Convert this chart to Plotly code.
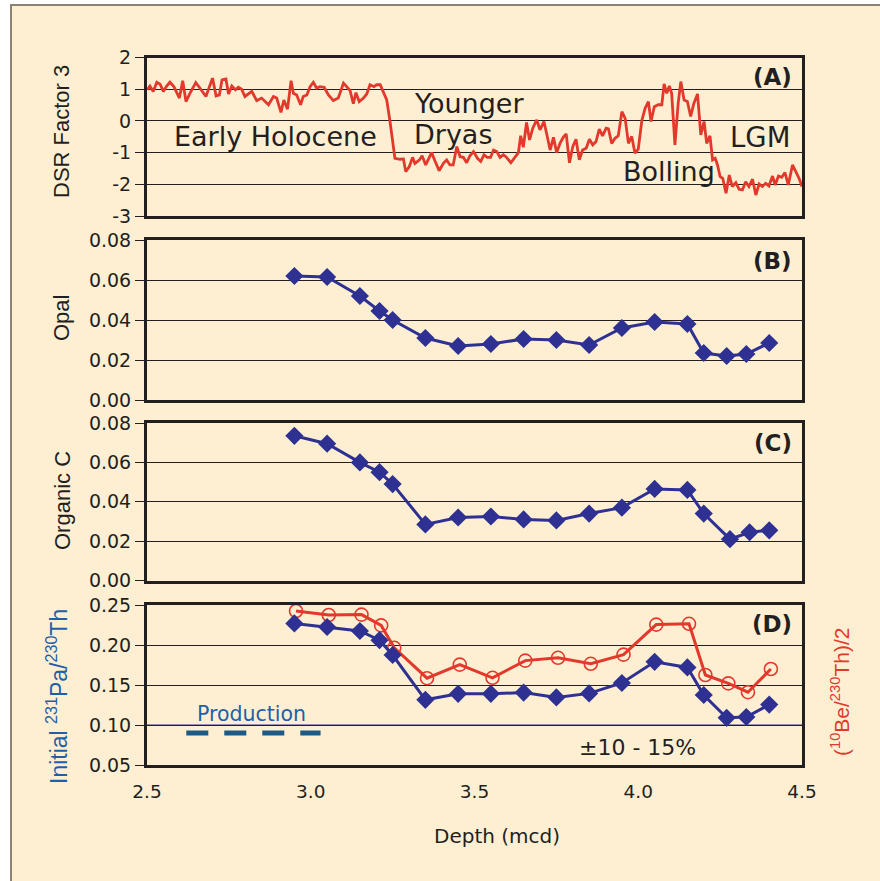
import plotly.graph_objects as go

# ---------------- data ----------------
# Panel A: DSR Factor 3 (depth in mcd, value)
dsr_depth = [2.501, 2.509, 2.519, 2.530, 2.540, 2.550, 2.560, 2.570, 2.582, 2.599,
             2.609, 2.619, 2.631, 2.649, 2.662, 2.680, 2.700, 2.711, 2.721, 2.729,
             2.741, 2.749, 2.759, 2.770, 2.779, 2.789, 2.799, 2.820, 2.835, 2.850,
             2.871, 2.886, 2.896, 2.909, 2.918, 2.929, 2.940, 2.947, 2.957, 2.969,
             2.977, 2.988, 2.998, 3.008, 3.018, 3.028, 3.041, 3.054, 3.069, 3.084,
             3.100, 3.110, 3.120, 3.130, 3.138, 3.148, 3.161, 3.171, 3.181, 3.193,
             3.201, 3.212, 3.222, 3.232, 3.242, 3.257, 3.273, 3.283, 3.290, 3.301,
             3.311, 3.318, 3.332, 3.340, 3.351, 3.361, 3.369, 3.380, 3.392,
             3.405, 3.415, 3.425, 3.435, 3.446, 3.456, 3.466, 3.476, 3.486, 3.497,
             3.509, 3.519, 3.529, 3.539, 3.549, 3.558, 3.568, 3.578, 3.588, 3.596,
             3.611, 3.624, 3.634, 3.641, 3.649, 3.659, 3.668, 3.678, 3.690, 3.700,
             3.712, 3.720, 3.731, 3.741, 3.751, 3.761, 3.771, 3.780, 3.790, 3.800,
             3.810, 3.820, 3.830, 3.841, 3.851, 3.861, 3.871, 3.881, 3.891, 3.902,
             3.909, 3.919, 3.929, 3.939, 3.950, 3.960, 3.970, 3.980, 3.990, 4.000,
             4.011, 4.021, 4.031, 4.039, 4.049, 4.061, 4.072, 4.079, 4.087, 4.095,
             4.102, 4.112, 4.122, 4.130, 4.140, 4.150, 4.160, 4.170, 4.181, 4.191,
             4.201, 4.209, 4.219, 4.227, 4.235, 4.242, 4.250, 4.258, 4.268, 4.278,
             4.287, 4.298, 4.308, 4.318, 4.328, 4.338, 4.349, 4.359, 4.369, 4.379,
             4.389, 4.399, 4.410, 4.418, 4.428, 4.438, 4.448, 4.458, 4.471, 4.481,
             4.491, 4.500]
dsr_value = [0.98, 1.10, 0.93, 1.22, 1.16, 0.93, 1.10, 1.22, 1.08, 0.72,
             1.27, 0.61, 0.87, 1.21, 1.03, 0.77, 1.35, 0.79, 0.82, 1.29,
             1.32, 0.85, 1.10, 0.98, 1.06, 1.00, 0.77, 0.93, 0.64, 0.72,
             0.51, 0.77, 0.72, 0.27, 0.66, 0.37, 1.27, 0.87, 0.82, 0.51,
             0.77, 0.82, 1.08, 1.22, 1.03, 1.08, 1.06, 0.82, 0.64, 0.72,
             1.19, 1.06, 0.96, 0.54, 0.89, 0.61, 0.72, 0.85, 1.14, 1.08,
             1.14, 1.14, 0.87, 0.66, -0.02, -1.18, -1.21, -1.20, -1.60, -1.44,
             -1.15, -1.34, -1.23, -1.10, -1.39, -1.18, -1.00, -1.28, -1.57,
             -1.34, -1.23, -1.39, -1.39, -0.81, -1.13, -1.15, -1.32, -1.10, -0.97,
             -1.18, -1.28, -1.07, -1.15, -1.15, -0.92, -0.97, -1.15, -1.07, -1.13,
             -1.32, -1.13, -1.00, -0.47, -0.83, -0.05, -0.60, -0.23, 0.03, -0.28,
             -0.02, -0.39, -0.92, -0.52, -1.00, -0.71, -0.52, -0.41, -1.32, -0.81,
             -0.58, -1.23, -0.92, -0.86, -0.58, -0.76, -0.65, -0.26, -0.47, -0.23,
             -0.25, -0.71, -0.55, -0.47, 0.29, 0.08, -0.71, -0.49, -1.02, -0.89,
             0.01, 0.40, 0.61, -0.02, 0.45, 0.51, 0.51, 1.17, 0.87, 1.10,
             0.87, -0.76, 0.56, 1.24, 0.66, 0.61, 0.14, 0.56, 0.85, -0.44,
             -0.02, -0.71, -0.47, -1.23, -1.18, -1.39, -1.76, -1.81, -2.28, -1.71,
             -2.07, -1.95, -2.16, -2.18, -1.92, -2.07, -1.84, -2.34, -1.99, -2.07,
             -1.97, -2.05, -1.74, -2.02, -1.74, -1.78, -1.63, -2.02, -1.39, -1.60,
             -1.81, -2.07]

# Panel B: Opal
opal_depth = [2.95, 3.05, 3.15, 3.21, 3.25, 3.35, 3.45, 3.55, 3.65, 3.75,
              3.85, 3.95, 4.05, 4.15, 4.20, 4.27, 4.33, 4.40]
opal_value = [0.062, 0.0615, 0.052, 0.0445, 0.040, 0.031, 0.027, 0.028, 0.0305, 0.030,
              0.0275, 0.036, 0.039, 0.038, 0.0235, 0.022, 0.023, 0.0285]

# Panel C: Organic C
orgc_depth = [2.95, 3.05, 3.15, 3.21, 3.25, 3.35, 3.45, 3.55, 3.65, 3.75,
              3.85, 3.95, 4.05, 4.15, 4.20, 4.28, 4.34, 4.40]
orgc_value = [0.0735, 0.0695, 0.060, 0.055, 0.049, 0.0285, 0.032, 0.0325, 0.031, 0.0305,
              0.034, 0.037, 0.0465, 0.046, 0.034, 0.021, 0.0245, 0.0255]

# Panel D: initial 231Pa/230Th and (10Be/230Th)/2
d_depth = [2.95, 3.05, 3.15, 3.21, 3.25, 3.35, 3.45, 3.55, 3.65, 3.75,
           3.85, 3.95, 4.05, 4.15, 4.20, 4.27, 4.33, 4.40]
pa_th = [0.227, 0.2225, 0.2175, 0.206, 0.1875, 0.1315, 0.139, 0.139, 0.1405, 0.1345,
         0.1395, 0.1525, 0.179, 0.172, 0.1375, 0.109, 0.110, 0.1255]
be_d_depth = [2.955, 3.055, 3.155, 3.215, 3.255, 3.355, 3.455, 3.555, 3.655, 3.755,
              3.855, 3.955, 4.055, 4.155, 4.205, 4.275, 4.335, 4.405]
be_th = [0.2425, 0.2375, 0.238, 0.2245, 0.1965, 0.1585, 0.1755, 0.159, 0.1805, 0.184,
         0.1765, 0.188, 0.2255, 0.2265, 0.1625, 0.152, 0.141, 0.1700]

production_depth = [2.62, 3.03]
production_value = [0.09, 0.09]

x_ticks = [2.5, 3.0, 3.5, 4.0, 4.5]
x_ticktext = ["2.5", "3.0", "3.5", "4.0", "4.5"]
a_ticks = [2, 1, 0, -1, -2, -3]
a_ticktext = ["2", "1", "0", "-1", "-2", "-3"]
bc_ticks = [0.0, 0.02, 0.04, 0.06, 0.08]
bc_ticktext = ["0.00", "0.02", "0.04", "0.06", "0.08"]
d_ticks = [0.05, 0.10, 0.15, 0.20, 0.25]
d_ticktext = ["0.05", "0.10", "0.15", "0.20", "0.25"]

# ---------------- style ----------------
CREAM = "#FEEFD3"
DARK = "#231F20"
RED = "#E3382C"
BLUE = "#2E3192"
WIDE = "DejaVu Sans, Verdana, Liberation Sans, Arial"
NARROW = "Liberation Sans, Arial"
TICKFONT = dict(family=WIDE, size=19, color=DARK)
XTICKFONT = dict(family=WIDE, size=18.5, color=DARK)

W, H = 880, 881
xdom = [147 / W, 802 / W]


def ydom(top_px, bot_px):
    return [1 - bot_px / H, 1 - top_px / H]


fig = go.Figure()

fig.add_trace(go.Scatter(x=dsr_depth, y=dsr_value, mode="lines",
                         line=dict(color=RED, width=2.8), xaxis="x", yaxis="y",
                         showlegend=False, hoverinfo="skip"))
fig.add_trace(go.Scatter(x=opal_depth, y=opal_value, mode="lines+markers",
                         line=dict(color=BLUE, width=3),
                         marker=dict(symbol="diamond", size=14, color=BLUE),
                         xaxis="x2", yaxis="y2", showlegend=False))
fig.add_trace(go.Scatter(x=orgc_depth, y=orgc_value, mode="lines+markers",
                         line=dict(color=BLUE, width=3),
                         marker=dict(symbol="diamond", size=14, color=BLUE),
                         xaxis="x3", yaxis="y3", showlegend=False))
fig.add_trace(go.Scatter(x=production_depth, y=production_value, mode="lines",
                         line=dict(color="#1B5A84", width=5, dash="22px,16px"),
                         xaxis="x4", yaxis="y4", showlegend=False))
fig.add_trace(go.Scatter(x=be_d_depth, y=be_th, mode="lines+markers",
                         line=dict(color=RED, width=3),
                         marker=dict(symbol="circle-open", size=13, color=RED,
                                     line=dict(width=1.6, color=RED)),
                         xaxis="x4", yaxis="y4", showlegend=False))
fig.add_trace(go.Scatter(x=d_depth, y=pa_th, mode="lines+markers",
                         line=dict(color=BLUE, width=3),
                         marker=dict(symbol="diamond", size=14, color=BLUE),
                         xaxis="x4", yaxis="y4", showlegend=False))

axis_common = dict(showline=True, mirror=True, linewidth=3, linecolor=DARK,
                   zeroline=False, automargin=False)
xaxis_common = dict(axis_common, range=[2.5, 4.5], domain=xdom, showgrid=False,
                    tickvals=x_ticks, ticktext=x_ticktext)
yaxis_common = dict(axis_common, showgrid=True, gridcolor=DARK, gridwidth=1,
                    ticks="outside", ticklen=9, tickwidth=1, tickcolor=DARK,
                    tickfont=TICKFONT)

layout = dict(
    width=W, height=H,
    margin=dict(l=0, r=0, t=0, b=0, pad=0, autoexpand=False),
    paper_bgcolor="white",
    plot_bgcolor=CREAM,
    xaxis=dict(xaxis_common, anchor="y", showticklabels=False, ticks=""),
    xaxis2=dict(xaxis_common, anchor="y2", showticklabels=False, ticks=""),
    xaxis3=dict(xaxis_common, anchor="y3", showticklabels=False, ticks=""),
    xaxis4=dict(xaxis_common, anchor="y4", showticklabels=True, ticks="outside",
                ticklen=8, tickcolor="rgba(0,0,0,0)", tickfont=XTICKFONT),
    yaxis=dict(yaxis_common, anchor="x", domain=ydom(57.5, 216), range=[-3, 2],
               tickvals=a_ticks, ticktext=a_ticktext),
    yaxis2=dict(yaxis_common, anchor="x2", domain=ydom(240, 400), range=[0, 0.08],
                tickvals=bc_ticks, ticktext=bc_ticktext),
    yaxis3=dict(yaxis_common, anchor="x3", domain=ydom(423, 580.5), range=[0, 0.08],
                tickvals=bc_ticks, ticktext=bc_ticktext),
    yaxis4=dict(yaxis_common, anchor="x4", domain=ydom(605, 765), range=[0.05, 0.25],
                tickvals=d_ticks, ticktext=d_ticktext),
)
fig.update_layout(**layout)

# background card with grey border on top/left
fig.add_shape(type="rect", xref="paper", yref="paper",
              x0=11 / W, x1=1.02, y0=-0.02, y1=1 - 5 / H,
              fillcolor=CREAM, line=dict(color="#8C8270", width=2), layer="below")

# blue reference line at 0.10 in panel D
fig.add_shape(type="line", xref="x4 domain", yref="y4", x0=0, x1=1, y0=0.10, y1=0.10,
              line=dict(color=BLUE, width=1), layer="below")

ann = []


def add_text(text, x, y, xref, yref, size, color=DARK, family=WIDE,
             xanchor="center", yanchor="middle", angle=0):
    ann.append(dict(text=text, x=x, y=y, xref=xref, yref=yref, showarrow=False,
                    font=dict(family=family, size=size, color=color),
                    xanchor=xanchor, yanchor=yanchor, textangle=angle))


# panel A labels
add_text("Early Holocene", 2.891, -0.48, "x", "y", 27)
add_text("Younger", 3.309, 0.56, "x", "y", 27, xanchor="left")
add_text("Dryas", 3.309, -0.44, "x", "y", 27, xanchor="left")
add_text("Bolling", 4.094, -1.61, "x", "y", 27)
add_text("LGM", 4.373, -0.51, "x", "y", 27.5)

# panel letters
for letter, xr, yr, ypos in [("(A)", "x domain", "y domain", 0.877),
                             ("(B)", "x2 domain", "y2 domain", 0.869),
                             ("(C)", "x3 domain", "y3 domain", 0.873),
                             ("(D)", "x4 domain", "y4 domain", 0.88)]:
    add_text("<b>" + letter + "</b>", 0.988, ypos, xr, yr, 23, xanchor="right")

# panel D labels
add_text("Production", 2.82, 0.114, "x4", "y4", 20.5, color="#1F5FAA")
add_text("±10 - 15%", 3.998, 0.0713, "x4", "y4", 22)

# axis titles
add_text("DSR Factor 3", 62 / W, 1 - 131 / H, "paper", "paper", 22, family=NARROW, angle=-90)
add_text("Opal", 62 / W, 1 - 318 / H, "paper", "paper", 22, family=NARROW, angle=-90)
add_text("Organic C", 62 / W, 1 - 500 / H, "paper", "paper", 22, family=NARROW, angle=-90)
add_text("Initial <sup>231</sup>Pa/<sup>230</sup>Th", 57 / W, 1 - 697 / H, "paper", "paper", 23,
         color="#1F5FAA", family=NARROW, angle=-90)
add_text("(<sup>10</sup>Be/<sup>230</sup>Th)/2", 840 / W, 1 - 692 / H, "paper", "paper", 21,
         color=RED, family=NARROW, angle=-90)
add_text("Depth (mcd)", 497 / W, 1 - 836 / H, "paper", "paper", 20)

fig.update_layout(annotations=ann)

fig.write_html("out.html", config={"displayModeBar": False},
               post_script="document.body.style.margin='0';")
